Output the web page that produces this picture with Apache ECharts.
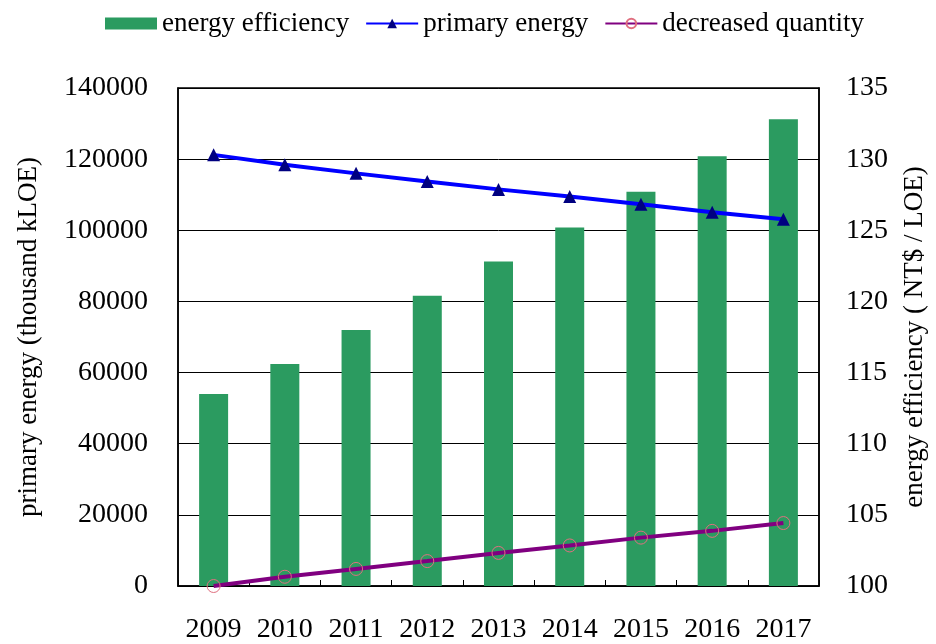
<!DOCTYPE html>
<html>
<head>
<meta charset="utf-8">
<script src="https://cdn.jsdelivr.net/npm/echarts@6/dist/echarts.min.js"></script>
<style>
html,body{margin:0;padding:0;background:#fff;}
#c{width:936px;height:644px;}
</style>
</head>
<body>
<div id="c"></div>
<script>
const years = ['2009','2010','2011','2012','2013','2014','2015','2016','2017'];
const energyEfficiency = [113.5, 115.6, 118.0, 120.4, 122.8, 125.2, 127.7, 130.2, 132.8];
const primaryEnergy = [121200, 118400, 116000, 113700, 111500, 109500, 107300, 105100, 103100];
const decreasedQuantity = [0, 2600, 4800, 7000, 9300, 11400, 13600, 15500, 17700];

const FONT = 'Liberation Serif';
const chart = echarts.init(document.getElementById('c'));
chart.setOption({
  backgroundColor: '#fff',
  animation: false,
  textStyle: { fontFamily: FONT, color: '#000' },
  legend: {
    top: 5,
    left: 100,
    itemWidth: 52,
    itemHeight: 12,
    itemGap: 16,
    textStyle: { fontFamily: FONT, fontSize: 27, color: '#000' },
    data: [
      { name: 'energy efficiency', icon: 'rect' },
      { name: 'primary energy' },
      { name: 'decreased quantity' }
    ]
  },
  grid: { left: 178, right: 113, top: 88, bottom: 53, containLabel: false, show: true, borderColor: '#000', borderWidth: 1.5, backgroundColor: 'transparent' },
  xAxis: {
    type: 'category',
    data: years,
    boundaryGap: true,
    axisLine: { lineStyle: { color: '#000', width: 1.5 } },
    axisTick: { show: true, inside: true, length: 6, alignWithLabel: false, lineStyle: { color: '#000' } },
    axisLabel: { fontFamily: FONT, fontSize: 28, color: '#000', margin: 30, interval: 0, hideOverlap: false }
  },
  yAxis: [
    {
      type: 'value',
      min: 0, max: 140000, interval: 20000,
      name: 'primary energy (thousand kLOE)',
      nameLocation: 'middle',
      nameGap: 136,
      nameTextStyle: { fontFamily: FONT, fontSize: 27, color: '#000' },
      axisLine: { show: true, lineStyle: { color: '#000', width: 1.5 } },
      axisTick: { show: false },
      axisLabel: { fontFamily: FONT, fontSize: 28, color: '#000', margin: 30, formatter: v => String(v) },
      splitLine: { show: true, lineStyle: { color: '#000', width: 1 } }
    },
    {
      type: 'value',
      min: 100, max: 135, interval: 5,
      position: 'right',
      name: 'energy efficiency ( NT$ / LOE)',
      nameLocation: 'middle',
      nameGap: 82,
      nameRotate: 90,
      nameTextStyle: { fontFamily: FONT, fontSize: 27, color: '#000' },
      axisLine: { show: true, lineStyle: { color: '#000', width: 1.5 } },
      axisTick: { show: false },
      axisLabel: { fontFamily: FONT, fontSize: 28, color: '#000', margin: 27 },
      splitLine: { show: false }
    }
  ],
  series: [
    {
      name: 'energy efficiency',
      type: 'bar',
      yAxisIndex: 1,
      data: energyEfficiency,
      barWidth: 29,
      itemStyle: { color: '#2b9b60' },
      z: 2
    },
    {
      name: 'primary energy',
      type: 'line',
      yAxisIndex: 0,
      data: primaryEnergy,
      symbol: 'triangle',
      symbolSize: 13,
      lineStyle: { color: '#0000ff', width: 4 },
      itemStyle: { color: '#000080' },
      z: 4
    },
    {
      name: 'decreased quantity',
      type: 'line',
      yAxisIndex: 0,
      data: decreasedQuantity,
      symbol: 'circle',
      symbolSize: 13,
      lineStyle: { color: '#800080', width: 4 },
      itemStyle: { color: 'rgba(0,0,0,0)', borderColor: '#e07080', borderWidth: 1 },
      z: 3
    }
  ]
});
</script>
</body>
</html>
